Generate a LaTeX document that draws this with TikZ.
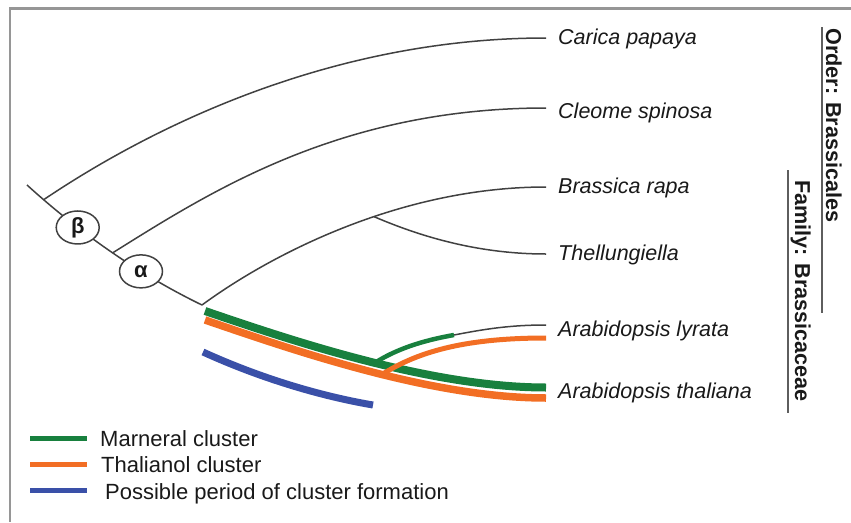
\documentclass[tikz,border=0pt]{standalone}
\usepackage{fontspec}
\setmainfont{Liberation Sans}
\usetikzlibrary{shapes.geometric}
\definecolor{cgreen}{RGB}{24,128,62}
\definecolor{corange}{RGB}{242,110,36}
\definecolor{cblue}{RGB}{58,80,168}
\definecolor{cline}{RGB}{65,65,65}
\definecolor{cframe}{RGB}{150,150,150}
\definecolor{ctext}{RGB}{25,25,25}
\begin{document}
\begin{tikzpicture}[x=1pt,y=-1pt,
  branch/.style={draw=cline,line width=1.5pt},
  clade/.style={ellipse,draw=cline,fill=white,line width=1.5pt,minimum width=43pt,minimum height=33pt,inner sep=0pt,font=\fontsize{22}{24}\selectfont\bfseries,text=ctext},
  taxon/.style={anchor=base west,inner sep=0pt,font=\fontsize{21.5}{24}\selectfont\itshape,text=ctext},
  ranklabel/.style={rotate=-90,anchor=base west,inner sep=0pt,font=\fontsize{21.6}{24}\selectfont\bfseries,text=ctext},
  rankbar/.style={draw=cline!85,line width=1.5pt},
  legtext/.style={anchor=base west,inner sep=0pt,font=\fontsize{22}{24}\selectfont,text=ctext},
  gband/.style={draw=cgreen,line width=8pt},
  oband/.style={draw=corange,line width=7.5pt},
  bband/.style={draw=cblue,line width=7pt},
  gtwig/.style={draw=cgreen,line width=4.5pt},
  otwig/.style={draw=corange,line width=5pt},
  legline/.style={line width=5pt}
]
\useasboundingbox (0,0) rectangle (851,522);
% frame
\draw[cframe,line width=3.5pt] (9,8.5) -- (851,8.5);
\draw[cframe,line width=2pt] (9.5,7) -- (9.5,522);

% root and branch points
\coordinate (R0) at (27,185);
\coordinate (R1) at (202,305);
\draw[branch] (R0) .. controls (82,235) and (142,276) .. (R1)
  coordinate[pos=0.1] (kC) coordinate[pos=0.3] (kB)
  coordinate[pos=0.5] (kCl) coordinate[pos=0.66] (kA);

% tip coordinates
\coordinate (eC) at (546,38);
\coordinate (eCl) at (546,108);
\coordinate (eB) at (546,187);
\coordinate (eT) at (546,254);
\coordinate (eL) at (546,325);

\draw[branch] (kC) .. controls (150,128) and (330,38) .. (eC);
\draw[branch] (kCl) .. controls (210,192) and (340,108) .. (eCl);
\draw[branch] (R1) .. controls (270,255) and (400,187) .. (eB)
  coordinate[pos=0.58] (kBT);
\draw[branch] (kBT) .. controls (410,232) and (470,254) .. (eT);

% blue period
\coordinate (b0) at (203,352);
\coordinate (b1) at (373,405);
\draw[bband] (b0) .. controls (260,378) and (320,396) .. (b1);

% Arabidopsis bands
\coordinate (g0) at (205,311);
\coordinate (g1) at (546,387.5);
\coordinate (o0) at (205,320);
\coordinate (o1) at (546,398);
\draw[gband] (g0) .. controls (290,340) and (430,387.5) .. (g1)
  coordinate[pos=0.53] (kG);
\draw[oband] (o0) .. controls (290,349) and (430,398) .. (o1)
  coordinate[pos=0.55] (kO);
\coordinate (eLo) at (546,338);
\coordinate (gL) at (454,335);
\draw[otwig] (kO) .. controls (420,350) and (470,338) .. (eLo);
\draw[branch] (gL) .. controls (485,329) and (510,325) .. (eL);
\draw[gtwig] (kG) .. controls (395,350) and (420,341) .. (gL);

% clade circles
\node[clade] (beta) at (kB) {β};
\node[clade] (alpha) at (kA) {α};

% taxa
\node[taxon] (tC) at (558,44) {Carica papaya};
\node[taxon] (tCl) at (558,118) {Cleome spinosa};
\node[taxon] (tB) at (558,193) {Brassica rapa};
\node[taxon] (tT) at (558,260) {Thellungiella};
\node[taxon] (tL) at (558,336) {Arabidopsis lyrata};
\node[taxon] (tA) at (558,398) {Arabidopsis thaliana};

% rank bars
\coordinate (ob0) at (822,27);
\coordinate (ob1) at (822,313);
\coordinate (fb0) at (788,170);
\coordinate (fb1) at (788,413);
\draw[rankbar] (ob0) -- (ob1);
\draw[rankbar] (fb0) -- (fb1);
\node[ranklabel] (ord) at (826,28) {Order: Brassicales};
\node[ranklabel] (fam) at (795,180) {Family: Brassicaceae};

% legend
\coordinate (lg0) at (30,438); \coordinate (lg1) at (87,438);
\coordinate (lo0) at (30,464); \coordinate (lo1) at (87,464);
\coordinate (lb0) at (30,490); \coordinate (lb1) at (87,490);
\draw[legline,cgreen] (lg0) -- (lg1);
\draw[legline,corange] (lo0) -- (lo1);
\draw[legline,cblue] (lb0) -- (lb1);
\node[legtext] (ltg) at (100,446) {Marneral cluster};
\node[legtext] (lto) at (101,472) {Thalianol cluster};
\node[legtext] (ltb) at (105,499) {Possible period of cluster formation};
\end{tikzpicture}
\end{document}
